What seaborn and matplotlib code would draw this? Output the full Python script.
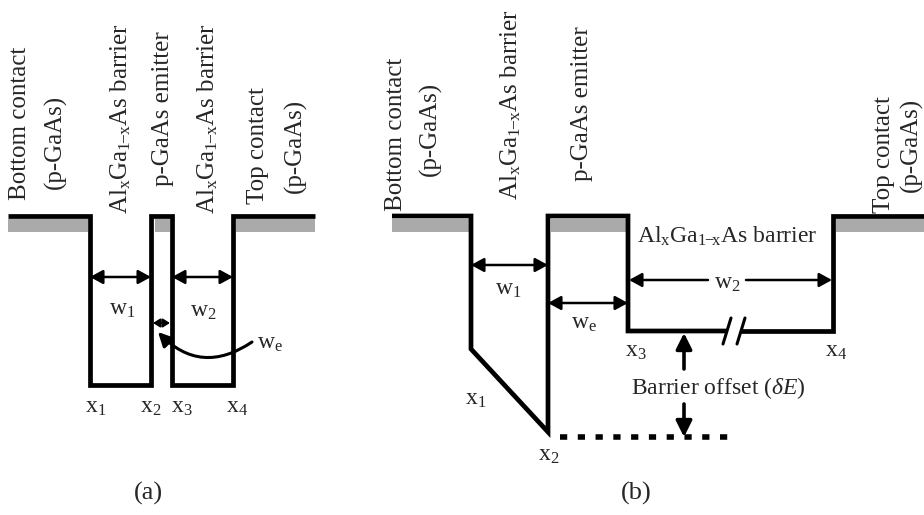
import matplotlib
matplotlib.use("Agg")
import matplotlib.pyplot as plt
import seaborn as sns

sns.set_theme(style="white")
plt.rcParams['font.family'] = ['Liberation Serif', 'DejaVu Serif']
plt.rcParams['mathtext.fontset'] = 'custom'
plt.rcParams['mathtext.rm'] = 'Liberation Serif'
plt.rcParams['mathtext.it'] = 'Liberation Serif:italic'

# ---------------- data (figure pixel units) ----------------
# panel (a) band profile
a_x = [8, 90, 90, 151, 151, 172, 172, 233, 233, 315]
a_y = [216, 216, 385, 385, 216, 216, 385, 385, 216, 216]
a_gray = [(8, 88), (155, 170), (236, 315)]
# panel (b) band profile (two pieces around the break)
b1_x = [392, 471, 471, 548, 548, 628, 628, 726]
b1_y = [216, 216, 349, 432, 216, 216, 331, 331]
b2_x = [741, 833, 833, 924]
b2_y = [331, 331, 216, 216]
b_gray = [(392, 469), (551, 626), (836, 924)]
dot_x = [560, 735]
dot_y = [437, 437]

barrier = r"Al$_{\rm x}$Ga$_{\rm 1\!\!-\!\!x}$As barrier"
rot_labels = [
    ("Bottom contact", 20, 200), ("(p-GaAs)", 55, 189),
    (barrier, 121, 214), ("p-GaAs emitter", 163, 186),
    (barrier, 208, 214), ("Top contact", 258, 204), ("(p-GaAs)", 295, 193),
    ("Bottom contact", 396, 211), ("(p-GaAs)", 430, 176),
    (barrier, 511, 200), ("p-GaAs emitter", 582, 181),
    ("Top contact", 884, 213), ("(p-GaAs)", 911, 192),
]
flat_labels = [
    (r"w$_{\rm 1}$", 122, 310), (r"w$_{\rm 2}$", 203, 312), (r"w$_{\rm e}$", 270, 344),
    (r"x$_{\rm 1}$", 96, 408), (r"x$_{\rm 2}$", 151, 408), (r"x$_{\rm 3}$", 182, 408),
    (r"x$_{\rm 4}$", 237, 408),
    (r"w$_{\rm 1}$", 508, 290), (r"w$_{\rm e}$", 584, 324), (r"w$_{\rm 2}$", 727, 284),
    (r"x$_{\rm 3}$", 636, 352), (r"x$_{\rm 4}$", 836, 352),
    (r"x$_{\rm 1}$", 476, 400), (r"x$_{\rm 2}$", 549, 455),
    (r"Barrier offset ($\delta E$)", 718, 388),
    (barrier, 727, 236),
]
panel_labels = [("(a)", 148, 493), ("(b)", 636, 493)]
# double arrows: (x0, x1, y)
dbl_arrows = [(90, 151, 277), (172, 233, 277), (471, 548, 265), (548, 628, 303)]

# ---------------- drawing ----------------
fig = plt.figure(figsize=(9.24, 5.15), dpi=100)
ax = fig.add_axes([0, 0, 1, 1])
ax.set_xlim(0, 924)
ax.set_ylim(515, 0)
ax.axis("off")

for x0, x1 in a_gray + b_gray:
    ax.fill_between([x0, x1], 219, 232, color="#aaaaaa", lw=0, zorder=1)

lw = 3.4
for xs, ys in [(a_x, a_y), (b1_x, b1_y), (b2_x, b2_y)]:
    sns.lineplot(x=xs, y=ys, sort=False, estimator=None, color="black",
                 linewidth=lw, ax=ax, zorder=3)
for ln in ax.lines:
    ln.set_solid_joinstyle("miter")
    ln.set_solid_capstyle("butt")

# break slashes
sns.lineplot(x=[723, 731], y=[344, 318], sort=False, estimator=None, color="black", linewidth=2.2, ax=ax)
sns.lineplot(x=[737, 745], y=[344, 318], sort=False, estimator=None, color="black", linewidth=2.2, ax=ax)

# dotted line
sns.lineplot(x=dot_x, y=dot_y, sort=False, estimator=None, color="black",
             linewidth=4, ax=ax, dashes=False)
ax.lines[-1].set_dashes((1.3, 1.9))
ax.lines[-1].set_dash_capstyle("butt")

aprops = dict(arrowstyle="<|-|>,head_length=0.55,head_width=0.3", color="black",
              lw=1.8, shrinkA=0, shrinkB=0, mutation_scale=14)
for x0, x1, y in dbl_arrows:
    ax.annotate("", xy=(x1, y), xytext=(x0, y), arrowprops=aprops)
# small we arrow in (a)
ax.annotate("", xy=(170, 323), xytext=(153, 323),
            arrowprops=dict(arrowstyle="<|-|>,head_length=0.4,head_width=0.25", color="black",
                            lw=1.5, shrinkA=0, shrinkB=0, mutation_scale=10))
# curved arrow to we in (a)
ax.annotate("", xy=(158, 332), xytext=(252, 342),
            arrowprops=dict(arrowstyle="-|>,head_length=0.6,head_width=0.3", color="black",
                            lw=2.2, shrinkA=0, shrinkB=0, mutation_scale=14,
                            connectionstyle="arc3,rad=-0.42"))
# w2 arrows in (b)
sprops = dict(arrowstyle="-|>,head_length=0.55,head_width=0.3", color="black",
              lw=1.8, shrinkA=0, shrinkB=0, mutation_scale=14)
ax.annotate("", xy=(629, 280), xytext=(708, 280), arrowprops=sprops)
ax.annotate("", xy=(832, 280), xytext=(746, 280), arrowprops=sprops)
# barrier offset arrows
oprops = dict(arrowstyle="-|>,head_length=0.6,head_width=0.3", color="black",
              lw=2.6, shrinkA=0, shrinkB=0, mutation_scale=16)
ax.annotate("", xy=(684, 333), xytext=(684, 369), arrowprops=oprops)
ax.annotate("", xy=(684, 437), xytext=(684, 404), arrowprops=oprops)

for s, x, y in rot_labels:
    ax.text(x, y, s, rotation=90, ha="center", va="bottom", fontsize=18)
for s, x, y in flat_labels:
    ax.text(x, y, s, ha="center", va="center", fontsize=17)
for s, x, y in panel_labels:
    ax.text(x, y, s, ha="center", va="center", fontsize=19)

fig.savefig("out.png", dpi=100)
